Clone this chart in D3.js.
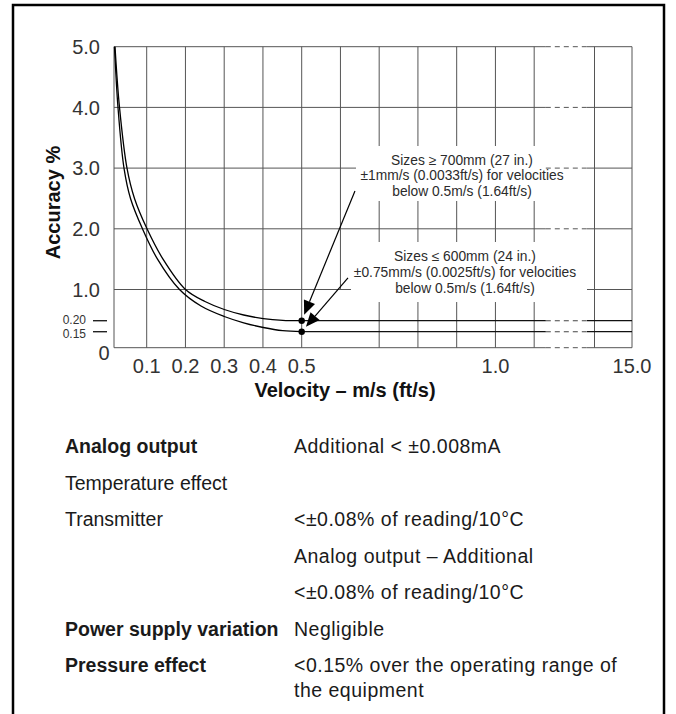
<!DOCTYPE html>
<html><head><meta charset="utf-8">
<script src="https://cdn.jsdelivr.net/npm/d3@7"></script>
<style>
html,body{margin:0;padding:0;background:#fff;}
svg{display:block;}
text{font-family:"Liberation Sans",Arial,sans-serif;}
</style></head><body>
<svg id="chart" width="676" height="714"></svg>
<script>
// ---------------- data ----------------
const yTickValues = [1, 2, 3, 4, 5];
const yTickLabels = ["1.0", "2.0", "3.0", "4.0", "5.0"];
const ySmallTickValues = [0.20, 0.15];
const ySmallTickLabels = ["0.20", "0.15"];
const yZeroLabel = "0";
const yGridValues = [0, 1, 2, 3, 4, 5];
const xGridValues = [0.1, 0.2, 0.3, 0.4, 0.5, 0.6, 0.7, 0.8, 0.9, 1.0, 1.1, 14, 15];
const xGridCutBelowOne = [0.6];
const xTickValues = [0.1, 0.2, 0.3, 0.4, 0.5, 1.0, 15.0];
const xTickLabels = ["0.1", "0.2", "0.3", "0.4", "0.5", "1.0", "15.0"];
const xDomain = [0.0156, 1.13, 13.8, 15];   // axis broken between 1.13 and 13.8
const yDomain = [0, 0.15, 0.20, 1, 5];       // lower part not to scale

// velocity (m/s), accuracy (%)
const curveLargeSizes = [ // sizes >= 700mm, flattens at 0.20
  [0.0182, 5.0], [0.0298, 4.0], [0.0491, 3.0], [0.0685, 2.5], [0.1008, 2.0],
  [0.1421, 1.5], [0.2001, 1.0], [0.2504, 0.692], [0.3002, 0.487], [0.3503, 0.346],
  [0.4009, 0.254], [0.451, 0.2077], [0.50, 0.20]
];
const curveSmallSizes = [ // sizes <= 600mm, flattens at 0.15
  [0.0169, 5.0], [0.0259, 4.0], [0.0414, 3.0], [0.0582, 2.5], [0.0891, 2.0],
  [0.1279, 1.5], [0.1846, 1.0], [0.2401, 0.577], [0.3002, 0.308], [0.3503, 0.1905],
  [0.4009, 0.1691], [0.451, 0.1545], [0.50, 0.15]
];
const flatValues = [0.20, 0.15];
const dotPoints = [[0.5, 0.20], [0.5, 0.15]];

const annotationLines1 = ["Sizes \u2265 700mm (27 in.)", "\u00b11mm/s (0.0033ft/s) for velocities", "below 0.5m/s (1.64ft/s)"];
const annotationLines2 = ["Sizes \u2264 600mm (24 in.)", "\u00b10.75mm/s (0.0025ft/s) for velocities", "below 0.5m/s (1.64ft/s)"];
const annotationAnchors = [[0.9137, 3.056], [0.9214, 1.463]];       // centre x, first baseline
const annotationBoxes = [[0.6401, 1.13, 3.364, 2.458], [0.6272, 13.8, 1.7825, 0.679]];
const arrowTails = [[0.6375, 2.623], [0.6195, 1.19]];

const tableLabels = ["Analog output", "Temperature effect", "Transmitter", "", "", "Power supply variation", "Pressure effect"];
const tableLabelBold = [true, false, false, false, false, true, true];
const tableValues = [["Additional < \u00b10.008mA"], [""], ["<\u00b10.08% of reading/10\u00b0C"], ["Analog output \u2013 Additional"],
  ["<\u00b10.08% of reading/10\u00b0C"], ["Negligible"], ["<0.15% over the operating range of", "the equipment"]];

const yAxisTitle = "Accuracy %";
const xAxisTitle = "Velocity \u2013 m/s (ft/s)";

// ---------------- drawing ----------------
const svg = d3.select("#chart");
const x = d3.scaleLinear().domain(xDomain).range([114, 545.8, 587, 632]);
const y = d3.scaleLinear().domain(yDomain).range([347.7, 331.7, 320.7, 289.5, 46.7]);
const gridColor = "#555";

// frame
svg.append("path").attr("d", "M13,714 L13,5 L664,5 L664,714")
  .attr("stroke", "#000").attr("stroke-width", 2.5).attr("fill", "none");

const grid = svg.append("g").attr("stroke", gridColor).attr("stroke-width", 1).attr("fill", "none");
grid.selectAll("line.v").data(xGridValues).join("line")
  .attr("x1", d => x(d)).attr("x2", d => x(d))
  .attr("y1", d => xGridCutBelowOne.includes(d) ? y(1) : y(0)).attr("y2", y(5));
grid.append("line").attr("x1", x(xDomain[0])).attr("x2", x(xDomain[0])).attr("y1", y(0)).attr("y2", y(5));

function brokenH(g, val, color, width) {
  g.append("line").attr("x1", x(xDomain[0])).attr("x2", x(xDomain[1])).attr("y1", y(val)).attr("y2", y(val))
    .attr("stroke", color).attr("stroke-width", width);
  g.append("line").attr("x1", x(xDomain[1])).attr("x2", x(xDomain[2])).attr("y1", y(val)).attr("y2", y(val))
    .attr("stroke", color).attr("stroke-width", 1).attr("stroke-dasharray", "5,4");
  g.append("line").attr("x1", x(xDomain[2])).attr("x2", x(xDomain[3])).attr("y1", y(val)).attr("y2", y(val))
    .attr("stroke", color).attr("stroke-width", width);
}
yGridValues.forEach(v => brokenH(grid, v, gridColor, 1));

// annotation boxes (white) and texts
const ann = svg.append("g");
annotationBoxes.forEach(b => {
  ann.append("rect").attr("x", x(b[0])).attr("width", x(b[1]) - x(b[0]))
    .attr("y", y(b[2])).attr("height", y(b[3]) - y(b[2])).attr("fill", "#fff");
});
[annotationLines1, annotationLines2].forEach((lines, i) => {
  const t = ann.append("text").attr("text-anchor", "middle").attr("font-size", 13.8).attr("fill", "#2b2b2b");
  lines.forEach((l, j) => t.append("tspan").attr("x", x(annotationAnchors[i][0]))
    .attr("y", y(annotationAnchors[i][1]) + j * 15.7).text(l));
});

// curves
const line = d3.line().x(d => x(d[0])).y(d => y(d[1])).curve(d3.curveCatmullRom.alpha(0.5));
const curves = svg.append("g").attr("fill", "none").attr("stroke", "#000").attr("stroke-width", 1.3);
[curveLargeSizes, curveSmallSizes].forEach(c => curves.append("path").attr("d", line(c)));
const flats = svg.append("g");
flatValues.forEach(v => {
  flats.append("line").attr("x1", x(0.5)).attr("x2", x(xDomain[1])).attr("y1", y(v)).attr("y2", y(v))
    .attr("stroke", "#111").attr("stroke-width", 1.3);
  flats.append("line").attr("x1", x(xDomain[1])).attr("x2", x(xDomain[2])).attr("y1", y(v)).attr("y2", y(v))
    .attr("stroke", "#444").attr("stroke-width", 1.1).attr("stroke-dasharray", "5,4");
  flats.append("line").attr("x1", x(xDomain[2])).attr("x2", x(xDomain[3])).attr("y1", y(v)).attr("y2", y(v))
    .attr("stroke", "#111").attr("stroke-width", 1.3);
});

// arrows
const arrows = svg.append("g");
arrowTails.forEach((t, i) => {
  const tx = x(t[0]), ty = y(t[1]);
  const px = x(dotPoints[i][0]), py = y(dotPoints[i][1]);
  const dx = px - tx, dy = py - ty, len = Math.hypot(dx, dy);
  const ux = dx / len, uy = dy / len;
  const tipX = px - ux * 6.5, tipY = py - uy * 6.5;
  const bX = tipX - ux * 14, bY = tipY - uy * 14;
  arrows.append("line").attr("x1", tx).attr("y1", ty).attr("x2", bX).attr("y2", bY)
    .attr("stroke", "#000").attr("stroke-width", 1.2);
  arrows.append("path").attr("d", `M${tipX},${tipY} L${bX - uy * 6},${bY + ux * 6} L${bX + uy * 6},${bY - ux * 6} Z`)
    .attr("fill", "#000");
});
svg.append("g").selectAll("circle").data(dotPoints).join("circle")
  .attr("cx", d => x(d[0])).attr("cy", d => y(d[1])).attr("r", 3.2).attr("fill", "#000");

// y tick labels
const yl = svg.append("g").attr("fill", "#333").attr("font-size", 20).attr("text-anchor", "end");
yl.selectAll("text").data(yTickValues).join("text")
  .attr("x", 100).attr("y", d => y(d)).attr("dy", "0.36em").text((d, i) => yTickLabels[i]);
const ys = svg.append("g");
ys.selectAll("text").data(ySmallTickValues).join("text")
  .attr("x", 86).attr("y", (d, i) => y(d) + (i === 0 ? -1.5 : 1.5)).attr("dy", "0.36em").attr("text-anchor", "end")
  .attr("font-size", 12).attr("fill", "#333").text((d, i) => ySmallTickLabels[i]);
ys.selectAll("line").data(ySmallTickValues).join("line")
  .attr("x1", 93).attr("x2", 107).attr("y1", d => y(d)).attr("y2", d => y(d))
  .attr("stroke", "#222").attr("stroke-width", 1.4);
svg.append("text").attr("x", 104).attr("y", y(0) + 12.5).attr("text-anchor", "middle")
  .attr("font-size", 20).attr("fill", "#333").text(yZeroLabel);

// x tick labels
svg.append("g").attr("fill", "#333").attr("font-size", 20).attr("text-anchor", "middle")
  .selectAll("text").data(xTickValues).join("text")
  .attr("x", d => x(d)).attr("y", 373).text((d, i) => xTickLabels[i]);

// axis titles
svg.append("text").attr("transform", "translate(59.5,202.5) rotate(-90)").attr("text-anchor", "middle")
  .attr("font-size", 20).attr("font-weight", "bold").attr("fill", "#111").text(yAxisTitle);
svg.append("text").attr("x", 345).attr("y", 397).attr("text-anchor", "middle")
  .attr("font-size", 20).attr("font-weight", "bold").attr("fill", "#111").text(xAxisTitle);

// table
const tbl = svg.append("g").attr("font-size", 19.5).attr("fill", "#1a1a1a");
tableLabels.forEach((lab, i) => {
  const by = 453 + i * 36.5;
  tbl.append("text").attr("x", 65).attr("y", by).attr("font-weight", tableLabelBold[i] ? "bold" : "normal").text(lab);
  tableValues[i].forEach((v, j) => tbl.append("text").attr("x", 294).attr("y", by + j * 24.5)
    .attr("letter-spacing", 0.5).text(v));
});
</script>
</body></html>
